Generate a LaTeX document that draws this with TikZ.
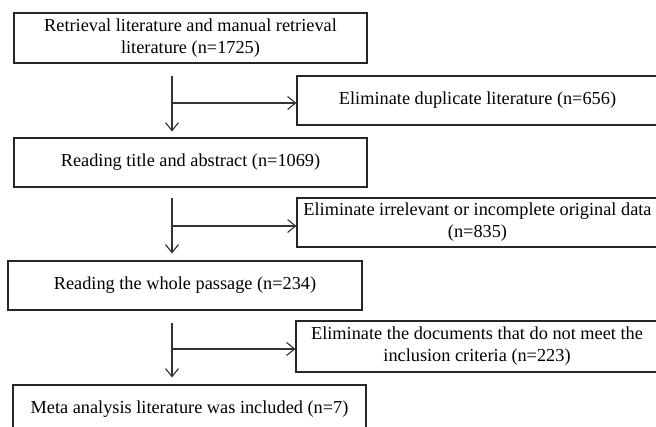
\documentclass[tikz,border=0pt]{standalone}
\usepackage{fontspec}
\setmainfont{Liberation Serif}
\usetikzlibrary{arrows.meta}
\begin{document}
\begin{tikzpicture}[>={Straight Barb[length=8pt, width=13pt]}, x=1pt, y=-1pt, line width=1.1pt,
        stage/.style={draw=black!85, line width=1.1pt, inner sep=0pt, align=center, minimum width=353pt, minimum height=49pt, font=\fontsize{18.3}{22}\selectfont},
        drop/.style={stage, minimum width=361pt},
        flow/.style={draw=black!80, line width=1.1pt}]
        \useasboundingbox (0, 0) rectangle (656, 427);
        \clip (0, 0) rectangle (656, 427);

        \node[stage, minimum height=50pt] (b1) at (190.5, 38) {Retrieval literature and manual retrieval\\literature (n=1725)};
        \node[drop] (d1) at (477.5, 100.5) {Eliminate duplicate literature (n=656)};
        \node[stage] (b2) at (190.5, 162.5) {Reading title and abstract (n=1069)};
        \node[drop] (d2) at (477.5, 222.5) {Eliminate irrelevant or incomplete original data\\(n=835)};
        \node[stage, minimum width=354pt] (b3) at (185, 285.5) {Reading the whole passage (n=234)};
        \node[drop, minimum width=362pt, minimum height=51pt] (d3) at (477, 346.5) {Eliminate the documents that do not meet the\\inclusion criteria (n=223)};
        \node[stage] (b4) at (189.5, 409.5) {\raisebox{4pt}{Meta analysis literature was included (n=7)}};

        \coordinate (s1) at (172, 76);
        \coordinate (j1) at (172, 103);
        \coordinate (s2) at (172, 198);
        \coordinate (j2) at (172, 226);
        \coordinate (s3) at (172, 323);
        \coordinate (j3) at (172, 349);

        \draw[flow, ->, shorten >=6pt] (s1) -- (s1 |- b2.north);
        \draw[flow, ->] (j1) -- (j1 -| d1.west);
        \draw[flow, ->, shorten >=7pt] (s2) -- (s2 |- b3.north);
        \draw[flow, ->] (j2) -- (j2 -| d2.west);
        \draw[flow, ->, shorten >=7pt] (s3) -- (s3 |- b4.north);
        \draw[flow, ->] (j3) -- (j3 -| d3.west);
    \end{tikzpicture}
\end{document}
